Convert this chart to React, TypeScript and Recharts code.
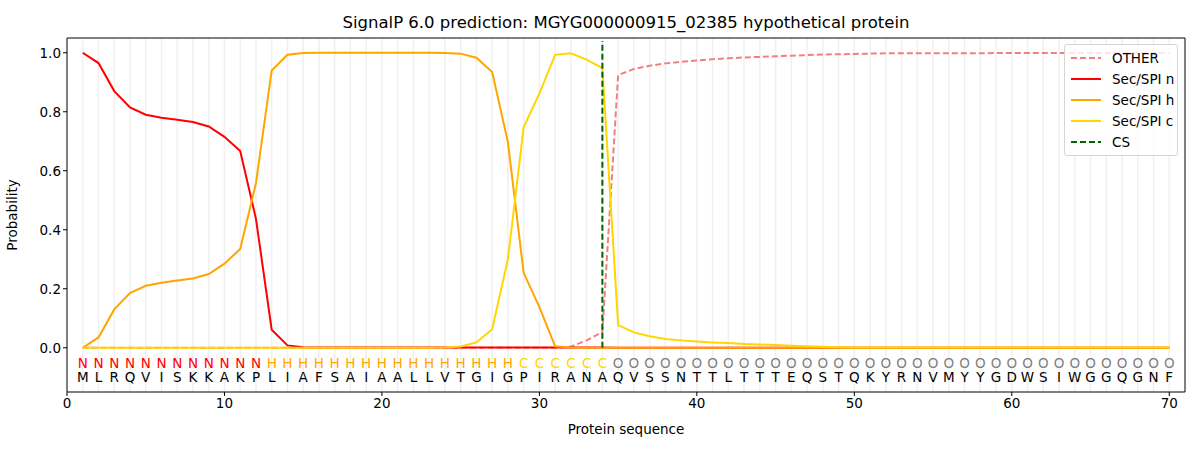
import React from "react"
import {
  ComposedChart,
  Line,
  Scatter,
  XAxis,
  YAxis,
  ReferenceLine,
} from "recharts"

const sequence = "MLRQVISKKAKPLIAFSAIAALLVTGIGPIRANAQVSSNTTLTTTEQSTQKYRNVMYYGDWSIWGGQGNF".split("")
const regions = "NNNNNNNNNNNNHHHHHHHHHHHHHHHHCCCCCCOOOOOOOOOOOOOOOOOOOOOOOOOOOOOOOOOOOO".split("")

const other = [
  0, 0, 0, 0, 0, 0, 0, 0, 0, 0, 0, 0, 0, 0, 0, 0, 0, 0, 0, 0,
  0, 0, 0, 0, 0, 0, 0, 0, 0, 0, 0, 0.004, 0.025, 0.053, 0.924, 0.945, 0.956, 0.964, 0.969, 0.974,
  0.978, 0.981, 0.984, 0.986, 0.988, 0.99, 0.992, 0.994, 0.995, 0.996, 0.997, 0.998, 0.998, 0.998, 0.998, 0.998, 0.998, 0.998, 0.999, 0.999,
  0.999, 0.999, 0.999, 0.999, 0.999, 0.999, 0.999, 0.999, 0.999, 0.999,
]
const secN = [
  1.0, 0.965, 0.87, 0.815, 0.79, 0.78, 0.773, 0.765, 0.75, 0.715, 0.667, 0.437, 0.061, 0.008, 0.002, 0.001, 0.001, 0.001, 0.001, 0.001,
  0.001, 0.001, 0.001, 0.001, 0.001, 0.001, 0.001, 0.001, 0.001, 0.001, 0.001, 0.001, 0.001, 0.001, 0, 0, 0, 0, 0, 0,
  0, 0, 0, 0, 0, 0, 0, 0, 0, 0, 0, 0, 0, 0, 0, 0, 0, 0, 0, 0,
  0, 0, 0, 0, 0, 0, 0, 0, 0, 0,
]
const secH = [
  0, 0.035, 0.13, 0.185, 0.21, 0.22, 0.228, 0.235, 0.25, 0.285, 0.335, 0.558, 0.94, 0.993, 0.999, 1.0, 1.0, 1.0, 1.0, 1.0,
  1.0, 1.0, 1.0, 0.999, 0.997, 0.983, 0.935, 0.697, 0.254, 0.138, 0.005, 0.001, 0, 0, 0, 0, 0, 0, 0, 0,
  0, 0, 0, 0, 0, 0, 0, 0, 0, 0, 0, 0, 0, 0, 0, 0, 0, 0, 0, 0,
  0, 0, 0, 0, 0, 0, 0, 0, 0, 0,
]
const secC = [
  0, 0, 0, 0, 0, 0, 0, 0, 0, 0, 0, 0, 0, 0, 0, 0, 0, 0, 0, 0,
  0, 0, 0, 0.001, 0.004, 0.018, 0.063, 0.3, 0.747, 0.862, 0.993, 0.998, 0.977, 0.948, 0.077, 0.052, 0.039, 0.03, 0.025, 0.021,
  0.018, 0.016, 0.013, 0.011, 0.009, 0.007, 0.005, 0.003, 0.002, 0.001, 0.001, 0.001, 0.001, 0.001, 0.001, 0.001, 0.001, 0.001, 0.001, 0.001,
  0.001, 0.001, 0.001, 0.001, 0.001, 0.001, 0.001, 0.001, 0.001, 0.001,
]

const cleavageSite = 34
const xDomain = [0, 71]
const yDomain = [-0.15, 1.05]
const xTicks = [0, 10, 20, 30, 40, 50, 60, 70]
const yTicks = [0, 0.2, 0.4, 0.6, 0.8, 1.0]

const regionColor: Record<string, string> = {
  N: "#ff0000",
  H: "#ffa500",
  C: "#ffd700",
  O: "#808080",
}

const series = [
  { key: "other", name: "OTHER", color: "#f08080", dashed: true },
  { key: "n", name: "Sec/SPI n", color: "#ff0000", dashed: false },
  { key: "h", name: "Sec/SPI h", color: "#ffa500", dashed: false },
  { key: "c", name: "Sec/SPI c", color: "#ffd700", dashed: false },
]

const rows = sequence.map((aa, i) => ({
  pos: i + 1,
  other: other[i],
  n: secN[i],
  h: secH[i],
  c: secC[i],
  lab: -0.05,
  aaY: -0.1,
  region: regions[i],
  aa,
}))

const font = "DejaVu Sans, sans-serif"

const LegendBox = () => {
  const items = [...series, { key: "cs", name: "CS", color: "#006400", dashed: true }]
  return (
    <div
      style={{
        position: "absolute",
        left: 1064,
        top: 44,
        width: 100,
        zIndex: 6,
        border: "1px solid #d6d6d6",
        borderRadius: 3,
        background: "rgba(255,255,255,0.8)",
        padding: "3px 6px 3px 6px",
        fontFamily: font,
        fontSize: 13.5,
      }}
    >
      {items.map((it) => (
        <div key={it.key} style={{ display: "flex", alignItems: "center", height: 20.8 }}>
          <svg width={30} height={10} style={{ marginRight: 11, flexShrink: 0 }}>
            <line
              x1={0}
              y1={5}
              x2={30}
              y2={5}
              stroke={it.color}
              strokeWidth={2}
              strokeDasharray={it.dashed ? "6 3" : undefined}
            />
          </svg>
          <span style={{ whiteSpace: "nowrap" }}>{it.name}</span>
        </div>
      ))}
    </div>
  )
}

export default function App() {
  return (
    <div style={{ position: "absolute", left: 0, top: 0, width: 1200, height: 450, background: "#fff" }}>
      <div
        style={{
          position: "absolute",
          left: 67,
          width: 1118,
          top: 13,
          textAlign: "center",
          fontFamily: font,
          fontSize: 16.5,
        }}
      >
        SignalP 6.0 prediction: MGYG000000915_02385 hypothetical protein
      </div>
      <ComposedChart
        width={1200}
        height={450}
        data={rows}
        margin={{ top: 38, right: 15, left: 10, bottom: 8 }}
        style={{ fontFamily: font }}
      >
        {rows.map((r) => (
          <ReferenceLine key={"g" + r.pos} x={r.pos} stroke="#f0f0f0" strokeWidth={1.5} />
        ))}
        {/* top and right spines */}
        <ReferenceLine y={yDomain[1]} stroke="#000" strokeWidth={1} ifOverflow="visible" />
        <ReferenceLine x={xDomain[1]} stroke="#000" strokeWidth={1} ifOverflow="visible" />
        <XAxis
          type="number"
          dataKey="pos"
          domain={xDomain}
          ticks={xTicks}
          allowDataOverflow
          height={50}
          tick={{ fill: "#000", fontSize: 13.5 }}
          tickLine={{ stroke: "#000" }}
          axisLine={{ stroke: "#000" }}
          tickSize={4}
          label={{ value: "Protein sequence", position: "insideBottom", offset: 8, fill: "#000", fontSize: 13.5 }}
        />
        <YAxis
          type="number"
          domain={yDomain}
          ticks={yTicks}
          allowDataOverflow
          width={57}
          tickFormatter={(v: number) => v.toFixed(1)}
          tick={{ fill: "#000", fontSize: 13.5 }}
          tickLine={{ stroke: "#000" }}
          axisLine={{ stroke: "#000" }}
          tickSize={4}
          label={{ value: "Probability", angle: -90, position: "insideLeft", offset: 2, fill: "#000", fontSize: 13.5, style: { textAnchor: "middle" } }}
        />
        {series.map((s) => (
          <Line
            key={s.key}
            type="linear"
            dataKey={s.key}
            name={s.name}
            stroke={s.color}
            strokeWidth={2}
            strokeDasharray={s.dashed ? "6 3" : undefined}
            dot={false}
            activeDot={false}
            isAnimationActive={false}
          />
        ))}
        <ReferenceLine
          segment={[
            { x: cleavageSite, y: 0 },
            { x: cleavageSite, y: 1.04 },
          ]}
          stroke="#006400"
          strokeWidth={2}
          strokeDasharray="6 3"
        />
        <Scatter
          data={rows}
          dataKey="lab"
          isAnimationActive={false}
          shape={(p: any) => (
            <text
              x={p.cx}
              y={p.cy}
              textAnchor="middle"
              dominantBaseline="central"
              fontSize={13.5}
              fontFamily={font}
              fill={regionColor[p.payload.region]}
            >
              {p.payload.region}
            </text>
          )}
        />
        <Scatter
          data={rows}
          dataKey="aaY"
          isAnimationActive={false}
          shape={(p: any) => (
            <text
              x={p.cx}
              y={p.cy}
              textAnchor="middle"
              dominantBaseline="central"
              fontSize={13.5}
              fontFamily={font}
              fill="#000"
            >
              {p.payload.aa}
            </text>
          )}
        />
      </ComposedChart>
      <LegendBox />
    </div>
  )
}
